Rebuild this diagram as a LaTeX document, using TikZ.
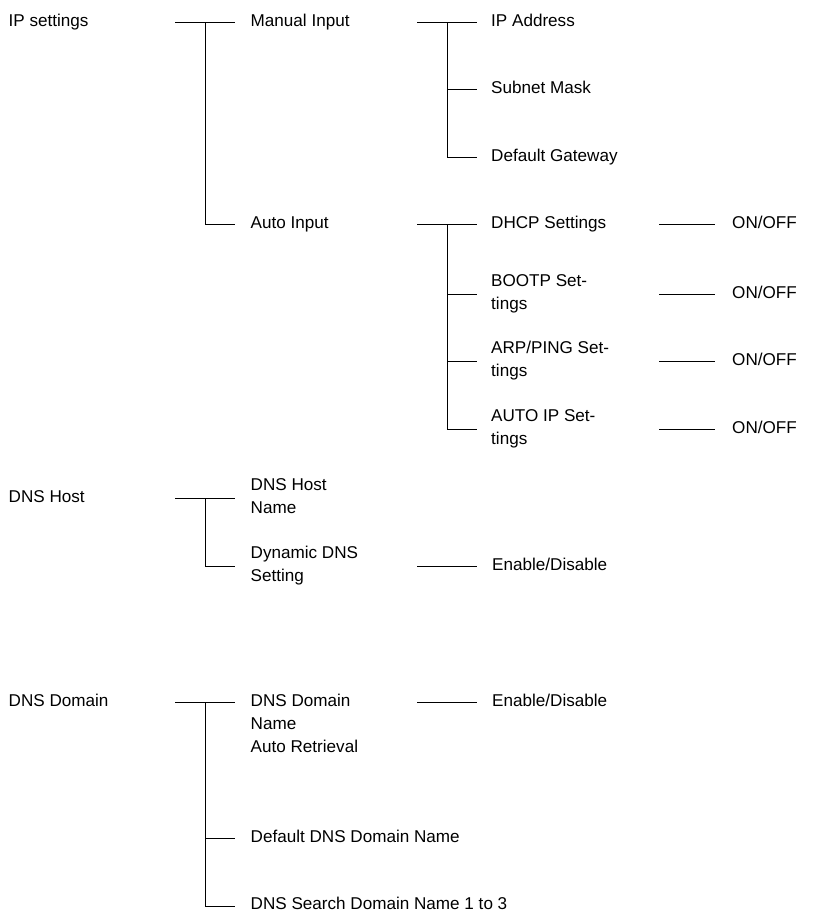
\documentclass[tikz,border=0pt]{standalone}
\usepackage{fontspec}
\setmainfont{Liberation Sans}
\newcommand\lblfont{\fontsize{17.1pt}{23pt}\selectfont}
\newcommand\twoline[2]{\vtop{\hbox{#1}\hbox{#2}}}
\newcommand\threeline[3]{\vtop{\hbox{#1}\hbox{#2}\hbox{#3}}}
\begin{document}
\begin{tikzpicture}[x=1pt,y=-1pt,
  lbl/.style={anchor=base west, inner sep=0pt, font=\lblfont},
  conn/.style={line width=1pt, line cap=butt}]
\useasboundingbox (0,0) rectangle (813,911);
% columns
\coordinate (cA) at (175,0);
\coordinate (cB) at (205,0);
\coordinate (cC) at (235,0);
\coordinate (cD) at (417,0);
\coordinate (cE) at (447.5,0);
\coordinate (cF) at (477,0);
\coordinate (cG) at (659,0);
\coordinate (cH) at (715,0);
% IP settings
\node[lbl] (ip) at (8.5,26) {IP settings};
\node[lbl] (man) at (250.5,26) {Manual Input};
\node[lbl] (auto) at (250.5,228.5) {Auto Input};
\node[lbl] (ipa) at (491,26) {IP Address};
\node[lbl] (sub) at (491,93) {Subnet Mask};
\node[lbl] (gw) at (491,161) {Default Gateway};
\node[lbl] (dhcp) at (491,228.5) {DHCP Settings};
\node[lbl] (bootp) at (491,286.5) {\twoline{BOOTP Set-}{tings}};
\node[lbl] (arp) at (491,353.5) {\twoline{ARP/PING Set-}{tings}};
\node[lbl] (aip) at (491,421.5) {\twoline{AUTO IP Set-}{tings}};
\node[lbl] (on1) at (732,228.5) {ON/OFF};
\node[lbl] (on2) at (732,298) {ON/OFF};
\node[lbl] (on3) at (732,365) {ON/OFF};
\node[lbl] (on4) at (732,433) {ON/OFF};
% DNS Host
\node[lbl] (dh) at (8.5,502) {DNS Host};
\node[lbl] (dhn) at (250.5,490.5) {\twoline{DNS Host}{Name}};
\node[lbl] (ddns) at (250.5,558.5) {\twoline{Dynamic DNS}{Setting}};
\node[lbl] (en1) at (492,570) {Enable/Disable};
% DNS Domain
\node[lbl] (dd) at (8.5,706) {DNS Domain};
\node[lbl] (ddn) at (250.5,706) {\threeline{DNS Domain}{Name}{Auto Retrieval}};
\node[lbl] (en2) at (492,706) {Enable/Disable};
\node[lbl] (ddef) at (250.5,842) {Default DNS Domain Name};
\node[lbl] (dsrch) at (250.5,909.3) {DNS Search Domain Name 1 to 3};
% line levels
\coordinate (ipY) at ([yshift=4pt]ip.base);
\coordinate (manY) at ([yshift=4pt]man.base);
\coordinate (autoY) at ([yshift=4pt]auto.base);
\coordinate (subY) at ([yshift=4pt]sub.base);
\coordinate (gwY) at ([yshift=4pt]gw.base);
\coordinate (dhcpY) at ([yshift=4pt]dhcp.base);
\coordinate (bootpY) at ([yshift=-7.5pt]bootp.base);
\coordinate (arpY) at ([yshift=-7.5pt]arp.base);
\coordinate (aipY) at ([yshift=-7.5pt]aip.base);
\coordinate (dhY) at ([yshift=4pt]dh.base);
\coordinate (ddnsY) at ([yshift=-7.5pt]ddns.base);
\coordinate (ddY) at ([yshift=4pt]dd.base);
\coordinate (ddefY) at ([yshift=4pt]ddef.base);
\coordinate (dsrchY) at ([yshift=3.3pt]dsrch.base);
% connectors
\draw[conn] (ipY -| cA) -- (ipY -| cC);
\draw[conn] (ipY -| cB) |- (autoY -| cC);
\draw[conn] (manY -| cD) -- (manY -| cF);
\draw[conn] (manY -| cE) |- (gwY -| cF);
\draw[conn] (subY -| cE) -- (subY -| cF);
\draw[conn] (autoY -| cD) -- (autoY -| cF);
\draw[conn] (autoY -| cE) |- (aipY -| cF);
\draw[conn] (bootpY -| cE) -- (bootpY -| cF);
\draw[conn] (arpY -| cE) -- (arpY -| cF);
\draw[conn] (dhcpY -| cG) -- (dhcpY -| cH);
\draw[conn] (bootpY -| cG) -- (bootpY -| cH);
\draw[conn] (arpY -| cG) -- (arpY -| cH);
\draw[conn] (aipY -| cG) -- (aipY -| cH);
\draw[conn] (dhY -| cA) -- (dhY -| cC);
\draw[conn] (dhY -| cB) |- (ddnsY -| cC);
\draw[conn] (ddnsY -| cD) -- (ddnsY -| cF);
\draw[conn] (ddY -| cA) -- (ddY -| cC);
\draw[conn] (ddY -| cB) |- (dsrchY -| cC);
\draw[conn] (ddefY -| cB) -- (ddefY -| cC);
\draw[conn] (ddY -| cD) -- (ddY -| cF);
\end{tikzpicture}
\end{document}
